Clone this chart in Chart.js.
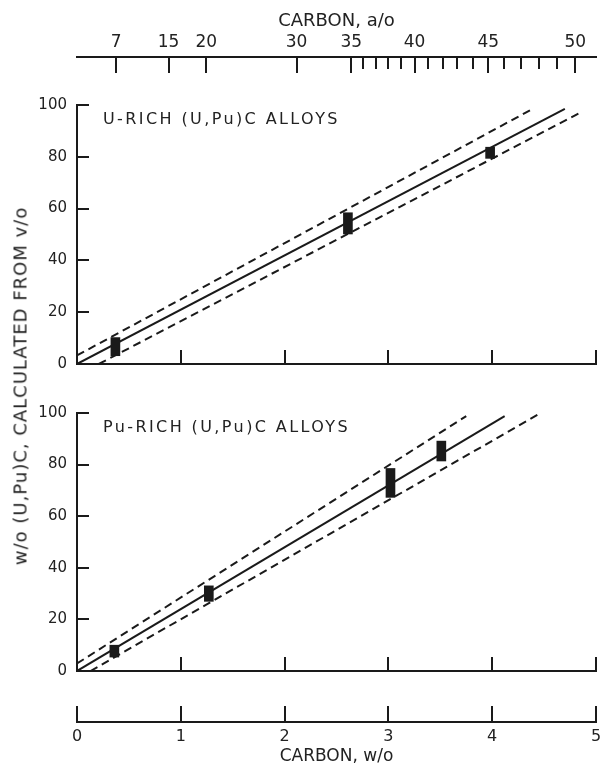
<!DOCTYPE html>
<html>
<head>
<meta charset="utf-8">
<script src="https://cdn.jsdelivr.net/npm/chart.js@4.4.1/dist/chart.umd.min.js"></script>
<style>
    html, body { margin: 0; padding: 0; background: #fff; }
    #page { position: relative; width: 600px; height: 772px; overflow: hidden; }
    #page canvas { position: absolute; left: 0; }
    #yTitle {
        position: absolute;
        left: 20px;
        top: 386px;
        transform: translate(-50%, -50%) rotate(-90deg);
        white-space: nowrap;
        font: 18px "DejaVu Sans", sans-serif;
        letter-spacing: 1px;
        color: #222;
    }
</style>
</head>
<body>
<div id="page">
    <canvas id="topAxis" width="600" height="80" style="top:0"></canvas>
    <canvas id="uPanel" width="600" height="284" style="top:90px"></canvas>
    <canvas id="puPanel" width="600" height="281" style="top:400px"></canvas>
    <canvas id="bottomAxis" width="600" height="82" style="top:690px"></canvas>
    <div id="yTitle">w/o (U,Pu)C, CALCULATED FROM v/o</div>
</div>
<script>
const INK = '#1a1a1a';
const TEXT = '#222';
const FONT = '"DejaVu Sans", sans-serif';

// Tick labels
const topTickLabels = [7, 15, 20, 30, 35, 40, 45, 50];          // carbon, a/o
const topMinorTicks = [36, 37, 38, 39, 41, 42, 43, 44, 46, 47, 48, 49];
const xTickValues = [0, 1, 2, 3, 4, 5];                          // carbon, w/o
const yTickValues = [0, 20, 40, 60, 80, 100];

// U-rich alloys
const uFit = [{ x: 0, y: 0 }, { x: 4.7, y: 98.5 }];
const uUpper = [{ x: 0, y: 3.3 }, { x: 4.39, y: 98.5 }];
const uLower = [{ x: 0.21, y: 0 }, { x: 4.87, y: 97.5 }];
const uPoints = [
    { x: 0.37, y: [3.2, 10.2] },
    { x: 2.61, y: [50.2, 58.4] },
    { x: 3.98, y: [79.4, 83.7] },
];

// Pu-rich alloys
const puFit = [{ x: 0, y: 0 }, { x: 4.12, y: 98.8 }];
const puUpper = [{ x: 0, y: 2.9 }, { x: 3.75, y: 98.8 }];
const puLower = [{ x: 0.13, y: 0 }, { x: 4.45, y: 99.6 }];
const puPoints = [
    { x: 0.36, y: [5.4, 10] },
    { x: 1.27, y: [27, 33] },
    { x: 3.02, y: [67.3, 78.5] },
    { x: 3.51, y: [81.4, 89.1] },
];

// carbon a/o -> w/o in (U,Pu)C, metal weight taken as 238
function aoToWo(ao) {
    return 100 * 12 * ao / (12 * ao + 238 * (100 - ao));
}

// ticks drawn inward by a negative tick length
function inwardGrid(len) {
    return {
        drawOnChartArea: false,
        offset: false,
        color: INK,
        lineWidth: 2,
        tickColor: INK,
        tickWidth: 2,
        tickLength: -len,
    };
}

function fixSize(prop, size) {
    return function(scale) {
        scale[prop] = size;
        scale.paddingLeft = 0;
        scale.paddingRight = 0;
        scale.paddingTop = 0;
        scale.paddingBottom = 0;
    };
}

const panelLabel = {
    id: 'panelLabel',
    afterDraw(chart, args, opts) {
        const ctx = chart.ctx;
        ctx.save();
        ctx.font = '16px ' + FONT;
        ctx.letterSpacing = '2.4px';
        ctx.fillStyle = TEXT;
        ctx.textBaseline = 'middle';
        ctx.fillText(opts.text, chart.chartArea.left + 26, chart.chartArea.top + 15);
        ctx.restore();
    }
};

const minorTicks = {
    id: 'minorTicks',
    afterDraw(chart, args, opts) {
        const scale = chart.scales.x;
        const ctx = chart.ctx;
        ctx.save();
        ctx.strokeStyle = INK;
        ctx.lineWidth = 2;
        opts.values.forEach(v => {
            const px = Math.round(scale.getPixelForValue(v));
            ctx.beginPath();
            ctx.moveTo(px, scale.bottom);
            ctx.lineTo(px, scale.bottom + opts.length);
            ctx.stroke();
        });
        ctx.restore();
    }
};

const baseOptions = {
    responsive: false,
    animation: false,
    devicePixelRatio: 1,
    events: [],
};

function makePanel(id, label, padTop, fit, upper, lower, points) {
    const line = { showLine: true, borderColor: INK, borderWidth: 2, pointRadius: 0 };
    return new Chart(document.getElementById(id), {
        type: 'scatter',
        data: {
            datasets: [
                { type: 'bar', data: points, backgroundColor: INK, barThickness: 9, borderWidth: 0 },
                { ...line, data: fit },
                { ...line, data: upper, borderDash: [8, 5] },
                { ...line, data: lower, borderDash: [8, 5] },
            ],
        },
        options: {
            ...baseOptions,
            layout: { padding: { top: padTop, right: 4, left: 0, bottom: 0 } },
            plugins: {
                legend: { display: false },
                tooltip: { enabled: false },
                panelLabel: { text: label },
            },
            scales: {
                x: {
                    type: 'linear', min: 0, max: 5, offset: false,
                    afterBuildTicks: s => { s.ticks = xTickValues.map(v => ({ value: v })); },
                    ticks: { display: false },
                    grid: inwardGrid(14),
                    border: { color: INK, width: 2 },
                    afterFit: fixSize('height', 10),
                },
                y: {
                    type: 'linear', min: 0, max: 100,
                    afterBuildTicks: s => { s.ticks = yTickValues.map(v => ({ value: v })); },
                    ticks: { color: TEXT, font: { family: FONT, size: 15 }, padding: 22 },
                    grid: inwardGrid(12),
                    border: { color: INK, width: 2 },
                    afterFit: fixSize('width', 77),
                },
            },
        },
        plugins: [panelLabel],
    });
}

// Top axis, carbon a/o
new Chart(document.getElementById('topAxis'), {
    type: 'scatter',
    data: { datasets: [] },
    options: {
        ...baseOptions,
        layout: { padding: { left: 77, right: 4, top: 0, bottom: 0 } },
        plugins: {
            legend: { display: false },
            tooltip: { enabled: false },
            minorTicks: { values: topMinorTicks.map(aoToWo), length: 12 },
        },
        scales: {
            x: {
                type: 'linear', position: 'top', min: 0, max: 5,
                afterBuildTicks: s => { s.ticks = topTickLabels.map(a => ({ value: aoToWo(a) })); },
                ticks: {
                    autoSkip: false, maxRotation: 0, padding: 20, color: TEXT,
                    font: { family: FONT, size: 17 },
                    callback: (v, i) => String(topTickLabels[i]),
                },
                grid: inwardGrid(16),
                border: { color: INK, width: 2 },
                title: {
                    display: true, text: 'CARBON, a/o', color: TEXT,
                    font: { family: FONT, size: 18 }, padding: { top: 11, bottom: 0 },
                },
                afterFit: fixSize('height', 57),
            },
            y: { display: false, min: 0, max: 1 },
        },
    },
    plugins: [minorTicks],
});

makePanel('uPanel', 'U-RICH (U,Pu)C ALLOYS', 15, uFit, uUpper, uLower, uPoints);
makePanel('puPanel', 'Pu-RICH (U,Pu)C ALLOYS', 13, puFit, puUpper, puLower, puPoints);

// Bottom axis, carbon w/o
new Chart(document.getElementById('bottomAxis'), {
    type: 'scatter',
    data: { datasets: [] },
    options: {
        ...baseOptions,
        layout: { padding: { left: 77, right: 4, top: 0, bottom: 0 } },
        plugins: { legend: { display: false }, tooltip: { enabled: false } },
        scales: {
            x: {
                type: 'linear', position: 'bottom', min: 0, max: 5,
                afterBuildTicks: s => { s.ticks = xTickValues.map(v => ({ value: v })); },
                ticks: {
                    autoSkip: false, maxRotation: 0, padding: 21, color: TEXT,
                    font: { family: FONT, size: 16 },
                },
                grid: inwardGrid(16),
                border: { color: INK, width: 2 },
                title: {
                    display: true, text: 'CARBON, w/o', color: TEXT,
                    font: { family: FONT, size: 17 }, padding: { top: 0, bottom: 5 },
                },
                afterFit: fixSize('height', 50),
            },
            y: { display: false, min: 0, max: 1 },
        },
    },
});
</script>
</body>
</html>
